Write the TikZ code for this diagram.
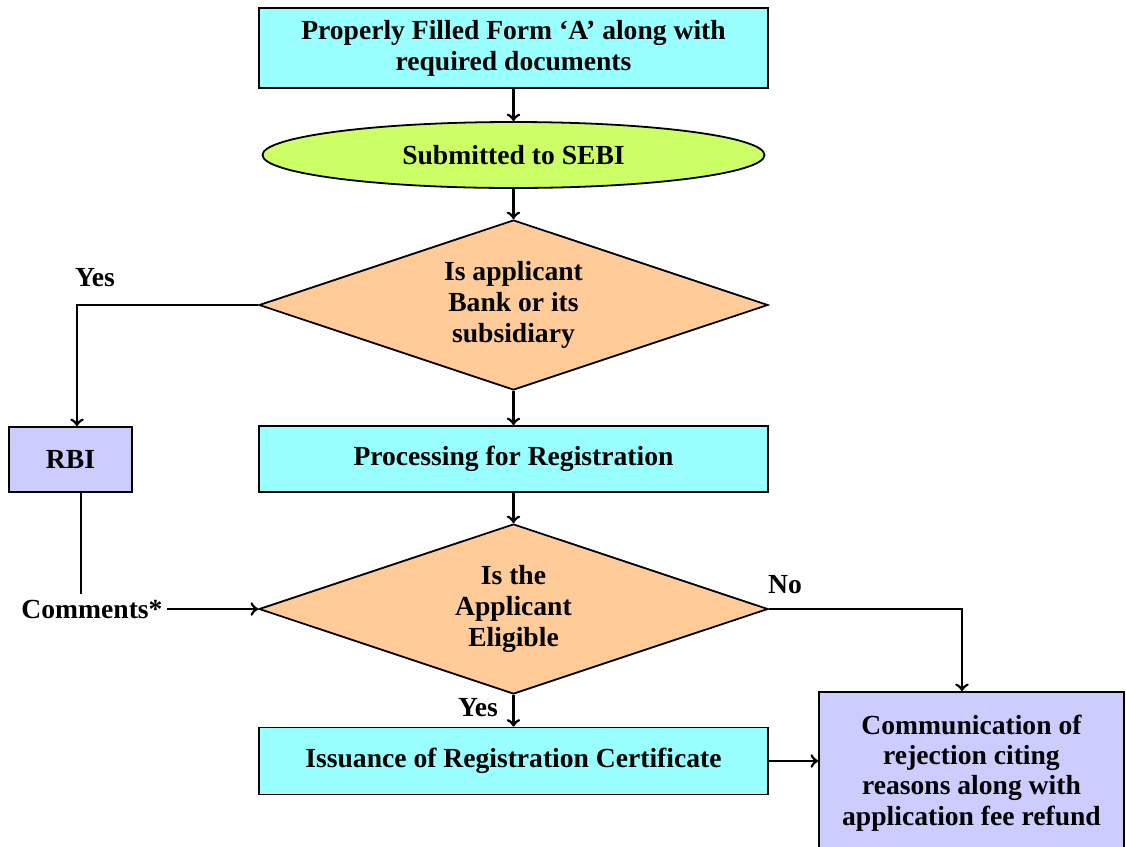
\documentclass[tikz,border=0pt]{standalone}
\usepackage{fontspec}
\setmainfont{Liberation Serif}
\usepackage{tikz}
\usetikzlibrary{arrows,calc,shapes.geometric}
\definecolor{boxcyan}{HTML}{99FFFF}
\definecolor{ovalgreen}{HTML}{CCFF66}
\definecolor{diapeach}{HTML}{FFCC99}
\definecolor{boxlilac}{HTML}{CCCCFF}
\tikzset{
	flowbox/.style = 
    {
			draw, line width=0.9pt, fill=boxcyan,
			minimum width=254.5pt, align=center, inner sep=2pt
    },
	decision/.style = 
    {
			diamond, draw, line width=0.9pt, fill=diapeach, aspect=3,
			minimum width=254.5pt, minimum height=85pt, align=center, inner sep=0pt
    },
	sidebox/.style = 
    {
			draw, line width=0.9pt, fill=boxlilac, align=center
    },
	flowline/.style = {line width=1.4pt}
}

\begin{document}
\begin{tikzpicture}[x=0.5pt, y=-0.5pt, font=\fontsize{13.8}{15.5}\selectfont\bfseries]
    \useasboundingbox (0,0) rectangle (1126,847);
    % Nodes
    \node (form) [flowbox, minimum height=40pt] at (513.5,48) {Properly Filled Form ‘A’ along with\\required documents};
    \node (sebi) [below of=form, node distance=53.5pt, ellipse, draw, line width=0.9pt, fill=ovalgreen, minimum width=251pt, minimum height=33pt] {Submitted to SEBI};
    \node (bank) [below of=sebi, node distance=75pt, decision] {Is applicant\\Bank or its\\subsidiary};
    \node (proc) [below of=bank, node distance=77pt, flowbox, minimum height=33pt] {Processing for Registration};
    \node (eligible) [below of=proc, node distance=75pt, decision] {Is the\\Applicant\\Eligible};
    \node (issue) [below of=eligible, node distance=76pt, flowbox, minimum height=33.5pt] {Issuance of Registration Certificate};
    \node (rbi) [sidebox, minimum width=61.5pt, minimum height=32.5pt] at (70.5,459.5) {RBI};
    \node (reject) [sidebox, minimum width=152.5pt, minimum height=81pt, font=\fontsize{13.8}{15.2}\selectfont\bfseries] at (971.5,773) {Communication of\\rejection citing\\reasons along with\\application fee refund};
    \node (comments) [inner sep=2pt] at (92,609) {Comments*};
    \node (yesbank) at (95,278) {Yes};
    \node (noelig) at (785,585) {No};
    \node (yeselig) at (478,708) {Yes};
    \coordinate (rbiend) at (81,594);

    % Arrows
    \draw [flowline, ->] (form) to (sebi);
    \draw [flowline, ->] (sebi) to (bank);
    \draw [flowline, ->] (bank) to (proc);
    \draw [flowline, ->] (proc) to (eligible);
    \draw [flowline, ->] (eligible) to (issue);
    \draw [flowline, ->] (bank.west) -| ([xshift=3.25pt]rbi.north);
    \draw [line width=0.8pt] ([xshift=5.25pt]rbi.south) -- (rbiend);
    \draw [flowline, ->] (comments.east) to (eligible.west);
    \draw [flowline, ->] (eligible.east) -| ([xshift=-4.75pt]reject.north);
    \draw [flowline, ->] (issue.east) -- (issue.east -| reject.west);
\end{tikzpicture}
\end{document}
